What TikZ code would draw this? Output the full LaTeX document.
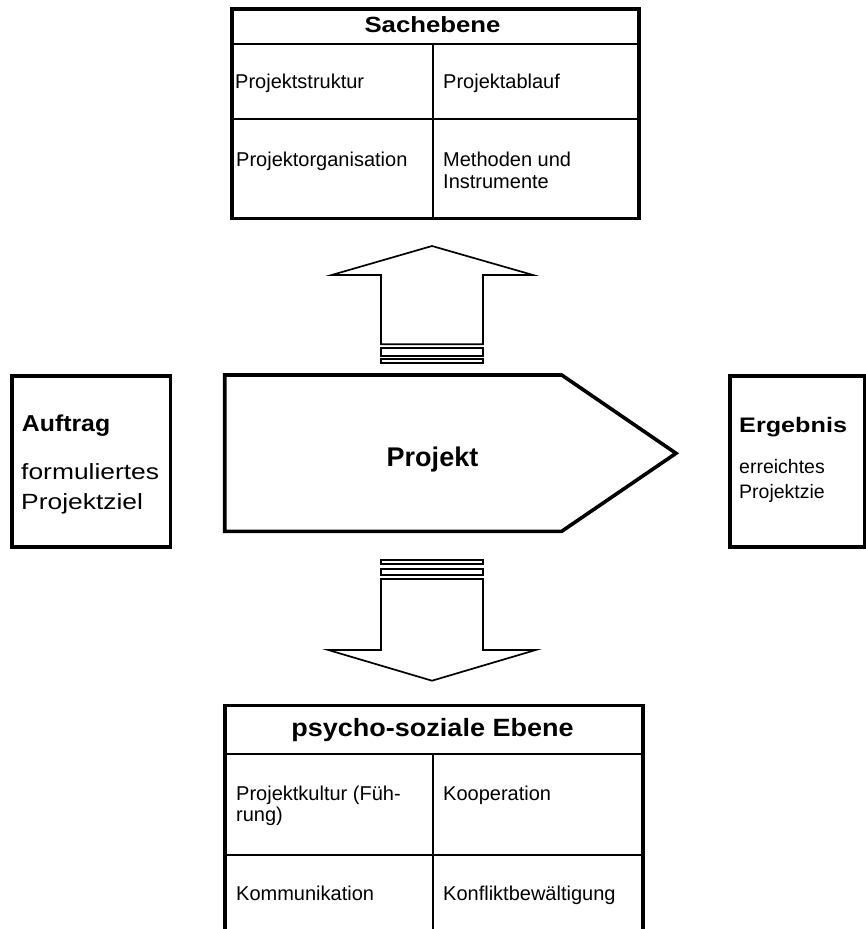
\documentclass[tikz,border=0pt]{standalone}
\usepackage{fontspec}
\setmainfont{Liberation Sans}
\newfontfamily\widesans{Liberation Sans}[FakeStretch=1.2]
\newfontfamily\midsans{Liberation Sans}[FakeStretch=1.08]
\newfontfamily\headsans{Liberation Sans}[FakeStretch=1.17]
\begin{document}
\begin{tikzpicture}[x=1pt,y=-1pt,
  frame/.style={line width=3.6pt, line join=miter},
  divider/.style={line width=2pt},
  blockarrow/.style={line width=1.7pt, line join=miter, fill=white},
  lbl/.style={inner sep=0pt, anchor=base west},
  clbl/.style={inner sep=0pt, anchor=base},
  cell/.style={lbl, font=\fontsize{20}{22}\selectfont},
]
\useasboundingbox[fill=white] (0,0) rectangle (866,929);

% --- Sachebene: table above the project ---
\draw[frame] (231.7,9.2) rectangle (639,218.3);
\draw[divider] (231.7,44) -- (639,44);
\draw[divider] (231.7,118.7) -- (639,118.7);
\draw[divider] (433,44) -- (433,218.3);
\node[clbl, font=\headsans\bfseries\fontsize{22}{26}\selectfont] (sach) at (432.5,32.3) {Sachebene};
\node[cell] (pstruktur) at (235,88.3) {Projektstruktur};
\node[cell] (pablauf) at (443,88.3) {Projektablauf};
\node[cell] (porg) at (236,166) {Projektorganisation};
\node[cell] (meth1) at (443,166) {Methoden und};
\node[cell] (meth2) at (443,188.5) {Instrumente};

% --- block arrow pointing up ---
\draw[blockarrow] (381,344.3) -- (381,275) -- (331.7,275) -- (432,246)
  -- (533,275) -- (483,275) -- (483,344.3) -- cycle;
\draw[blockarrow] (381,348.3) rectangle (483,355.7);
\draw[blockarrow] (381,359) rectangle (483,363);

% --- Auftrag ---
\draw[frame] (12,375.8) rectangle (170.3,547);
\node[lbl, font=\midsans\bfseries\fontsize{23}{26}\selectfont] (auftrag) at (21.7,431.7) {Auftrag};
\node[lbl, font=\widesans\fontsize{22}{26}\selectfont] (ziel1) at (21,479) {formuliertes};
\node[lbl, font=\widesans\fontsize{22}{26}\selectfont] (ziel2) at (21,509) {Projektziel};

% --- Projekt ---
\draw[frame] (224.7,375) -- (561.7,375) -- (676,453.3) -- (561.7,531.3)
  -- (224.7,531.3) -- cycle;
\node[clbl, font=\bfseries\fontsize{27}{30}\selectfont] (projekt) at (432.5,466) {Projekt};

% --- Ergebnis ---
\draw[frame] (729.7,375.8) rectangle (864.3,547);
\node[lbl, font=\widesans\bfseries\fontsize{21}{24}\selectfont] (ergebnis) at (739,432) {Ergebnis};
\node[lbl, font=\fontsize{19.5}{22}\selectfont] (erg1) at (739,473) {erreichtes};
\node[lbl, font=\fontsize{19.5}{22}\selectfont] (erg2) at (739,498) {Projektzie};

% --- block arrow pointing down ---
\draw[blockarrow] (381,560.3) rectangle (483,564.3);
\draw[blockarrow] (381,568.7) rectangle (483,575);
\draw[blockarrow] (381,579) -- (381,650) -- (328.3,650) -- (432,680.7)
  -- (535.7,650) -- (483,650) -- (483,579) -- cycle;

% --- psycho-soziale Ebene: table below the project ---
\draw[frame] (224.7,929) -- (224.7,705.3) -- (643,705.3) -- (643,929);
\draw[divider] (224.7,754) -- (643,754);
\draw[divider] (224.7,855.3) -- (643,855.3);
\draw[divider] (432.8,754) -- (432.8,929);
\node[clbl, font=\midsans\bfseries\fontsize{25}{28}\selectfont] (psycho) at (432.5,736.7) {psycho-soziale Ebene};
\node[cell] (kultur1) at (236,800) {Projektkultur (Füh-};
\node[cell] (kultur2) at (236,821.7) {rung)};
\node[cell] (koop) at (443,800) {Kooperation};
\node[cell] (komm) at (236,900.7) {Kommunikation};
\node[cell] (konf) at (443,900.7) {Konfliktbewältigung};
\end{tikzpicture}
\end{document}
